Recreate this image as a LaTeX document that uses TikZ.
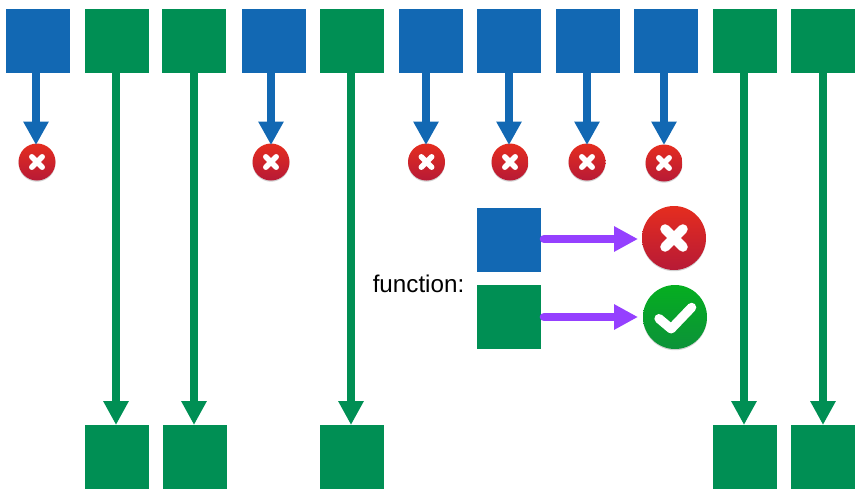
\documentclass[tikz,border=0pt]{standalone}
\usepackage{fontspec}
\setmainfont{Liberation Sans}
\usetikzlibrary{arrows.meta}
\definecolor{bluebox}{HTML}{1268B3}
\definecolor{greenbox}{HTML}{008F54}
\definecolor{purplearrow}{HTML}{9540FF}
\definecolor{redtop}{HTML}{E52D1F}
\definecolor{redbot}{HTML}{B71A36}
\definecolor{gtop}{HTML}{05AE20}
\definecolor{gbot}{HTML}{0C9239}
\tikzset{
  bluesq/.style={fill=bluebox,minimum size=64pt,inner sep=0pt,outer sep=0pt},
  greensq/.style={fill=greenbox,minimum size=64pt,inner sep=0pt,outer sep=0pt},
  bluearr/.style={draw=bluebox,line width=8.6pt,-{Triangle[length=23.5pt,width=24pt]}},
  greenarr/.style={draw=greenbox,line width=8.6pt,-{Triangle[length=24pt,width=24pt]}},
  purplearr/.style={draw=purplearrow,line width=8.6pt,line cap=round,-{Triangle[length=24pt,width=24pt]}},
  badge/.style={circle,inner sep=0pt,outer sep=0pt,minimum size=2*#1,
    preaction={fill=black,opacity=.18,transform canvas={yshift=-1.2pt}}},
  redbadge/.style={badge=#1,top color=redtop,bottom color=redbot,
    path picture={
      \draw[white,line width=#1*.3pt,line cap=round]
        ([shift={(-#1*.28,#1*.28)}]path picture bounding box.center) -- ([shift={(#1*.28,-#1*.28)}]path picture bounding box.center)
        ([shift={(-#1*.28,-#1*.28)}]path picture bounding box.center) -- ([shift={(#1*.28,#1*.28)}]path picture bounding box.center);
    }},
  greenbadge/.style={badge=#1,top color=gtop,bottom color=gbot,
    path picture={
      \draw[white,line width=#1*.29pt,line cap=round,line join=round]
        ([shift={(-#1*.5,-#1*.05)}]path picture bounding box.center) -- ([shift={(-#1*.12,-#1*.37)}]path picture bounding box.center) -- ([shift={(#1*.52,#1*.3)}]path picture bounding box.center);
    }},
}
\begin{document}
\begin{tikzpicture}[x=1pt,y=-1pt]
\useasboundingbox (0,0) rectangle (868,496);
% top row
\node[bluesq]  (t1)  at (38,41) {};
\node[greensq] (t2)  at (117,41) {};
\node[greensq] (t3)  at (194,41) {};
\node[bluesq]  (t4)  at (274,41) {};
\node[greensq] (t5)  at (352,41) {};
\node[bluesq]  (t6)  at (431,41) {};
\node[bluesq]  (t7)  at (509,41) {};
\node[bluesq]  (t8)  at (588,41) {};
\node[bluesq]  (t9)  at (666,41) {};
\node[greensq] (t10) at (745,41) {};
\node[greensq] (t11) at (823,41) {};
% bottom row
\node[greensq] (b2)  at (117,457) {};
\node[greensq] (b3)  at (195,457) {};
\node[greensq] (b5)  at (352,457) {};
\node[greensq] (b10) at (745,457) {};
\node[greensq] (b11) at (823,457) {};
% small badges
\node[redbadge=18.5pt] (e1) at (37,162) {};
\node[redbadge=18.5pt] (e4) at (271,162) {};
\node[redbadge=18.5pt] (e6) at (426.5,162) {};
\node[redbadge=18.5pt] (e7) at (510,162) {};
\node[redbadge=18.5pt] (e8) at (587,162) {};
\node[redbadge=18.5pt] (e9) at (664,163) {};
% blue arrows
\draw[bluearr] ([xshift=-2pt]t1.south) -- ([xshift=-1pt,yshift=-1.5pt]e1.north);
\draw[bluearr] ([xshift=-3pt]t4.south) -- ([yshift=-1.5pt]e4.north);
\draw[bluearr] ([xshift=-5pt]t6.south) -- ([xshift=-0.5pt,yshift=-1.5pt]e6.north);
\draw[bluearr] (t7.south) -- ([xshift=-1pt,yshift=-1.5pt]e7.north);
\draw[bluearr] ([xshift=-1pt]t8.south) -- ([yshift=-1.5pt]e8.north);
\draw[bluearr] ([xshift=-2pt]t9.south) -- ([yshift=-0.5pt]e9.north);
% green arrows
\draw[greenarr] ([xshift=-1pt]t2.south) -- ([xshift=-1pt]b2.north);
\draw[greenarr] (t3.south) -- ([xshift=-1pt]b3.north);
\draw[greenarr] ([xshift=-1pt]t5.south) -- ([xshift=-1pt]b5.north);
\draw[greenarr] ([xshift=-1pt]t10.south) -- ([xshift=-1pt]b10.north);
\draw[greenarr] (t11.south) -- (b11.north);
% legend
\node[font=\fontsize{24.2pt}{28pt}\selectfont,inner sep=0pt] (lab) at (418.5,284) {function:};
\node[bluesq]  (lb) at (509,240) {};
\node[greensq] (lg) at (509,317) {};
\node[redbadge=32pt]   (lx) at (674,238) {};
\node[greenbadge=32pt] (lc) at (675,317) {};
\draw[purplearr] ([xshift=3pt,yshift=1pt]lb.east) -- ([xshift=-4pt,yshift=-1pt]lx.west);
\draw[purplearr] ([xshift=3pt]lg.east) -- ([xshift=-5pt]lc.west);
\end{tikzpicture}
\end{document}
